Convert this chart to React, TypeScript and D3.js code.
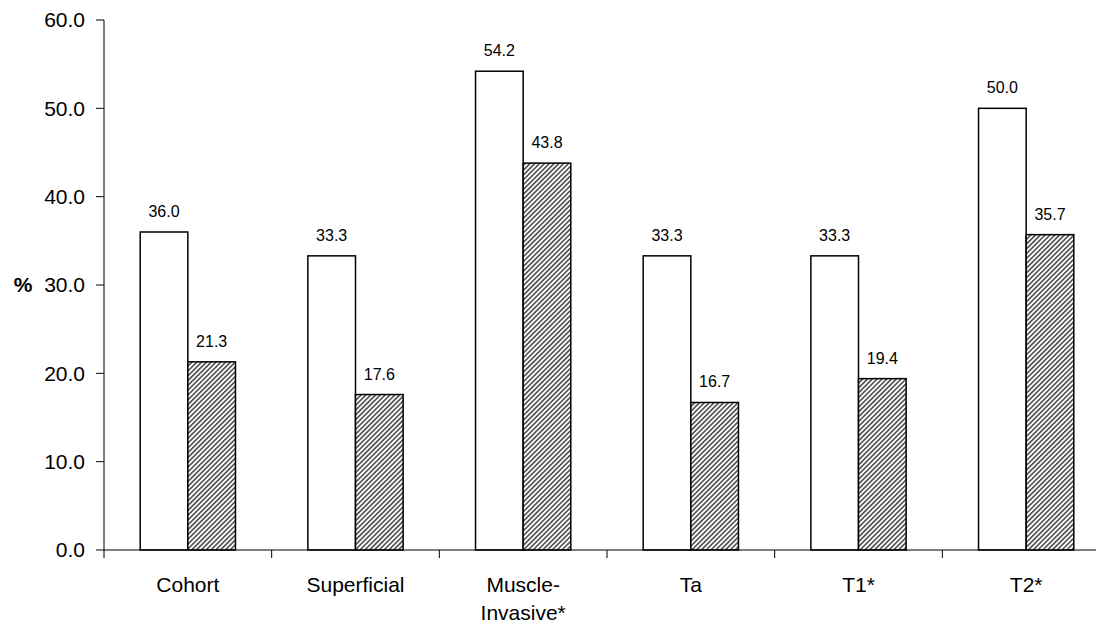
import React from 'react';
import * as d3 from 'd3';

const categories = ['Cohort', 'Superficial', 'Muscle-\nInvasive*', 'Ta', 'T1*', 'T2*'];
const openValues = [36.0, 33.3, 54.2, 33.3, 33.3, 50.0];
const hatchedValues = [21.3, 17.6, 43.8, 16.7, 19.4, 35.7];
const yTicks = [0, 10, 20, 30, 40, 50, 60];

const width = 1096;
const height = 623;
const margin = { top: 20, left: 104, bottom: 73 };
const axisRight = 1110; // the category axis runs past the window edge

const App: React.FC = () => {
  const y = d3.scaleLinear().domain([0, 60]).range([height - margin.bottom, margin.top]);
  const x0 = d3.scaleBand<string>().domain(categories).range([margin.left, axisRight]).padding(0);
  const x1 = d3.scaleBand<string>().domain(['open', 'hatched']).range([0, x0.bandwidth()])
    .paddingInner(0).paddingOuter(0.76);
  const y0 = y(0);
  const font = 'Liberation Sans, Arial, sans-serif';

  const series = [
    { key: 'open', values: openValues, fill: '#fff' },
    { key: 'hatched', values: hatchedValues, fill: 'url(#hatch)' }
  ];

  const boundaries = categories.map(c => x0(c)!).concat([axisRight]);

  return (
    <svg width={width} height={height} style={{ position: 'absolute', left: 0, top: 0, background: '#fff' }}>
      <defs>
        <pattern id="hatch" patternUnits="userSpaceOnUse" width={3.4} height={3.4} patternTransform="rotate(45)">
          <rect width={3.4} height={3.4} fill="#fff" />
          <line x1={0.8} y1={0} x2={0.8} y2={3.4} stroke="#333" strokeWidth={1.4} />
        </pattern>
      </defs>

      {/* bars */}
      {series.map(s => (
        <g key={s.key}>
          {categories.map((c, i) => {
            const bx = x0(c)! + x1(s.key)!;
            const by = y(s.values[i]);
            return (
              <g key={c}>
                <rect x={bx} y={by} width={x1.bandwidth()} height={y0 - by}
                  fill={s.fill} stroke="#000" strokeWidth={1.5} />
                <text x={bx + x1.bandwidth() / 2} y={by - 15} textAnchor="middle"
                  fontFamily={font} fontSize={16} fill="#000">
                  {s.values[i].toFixed(1)}
                </text>
              </g>
            );
          })}
        </g>
      ))}

      {/* y axis */}
      <line x1={margin.left} x2={margin.left} y1={y(60)} y2={y0} stroke="#000" strokeWidth={1} />
      {yTicks.map(t => (
        <g key={t}>
          <line x1={margin.left - 8} x2={margin.left} y1={y(t)} y2={y(t)} stroke="#000" strokeWidth={1} />
          <text x={margin.left - 19} y={y(t)} dy="0.35em" textAnchor="end"
            fontFamily={font} fontSize={21} fill="#000">
            {t.toFixed(1)}
          </text>
        </g>
      ))}
      <text x={23} y={y(30)} dy="0.35em" textAnchor="middle" fontFamily={font}
        fontSize={21} fontWeight="bold" fill="#000">%</text>

      {/* x axis */}
      <line x1={margin.left} x2={axisRight} y1={y0} y2={y0} stroke="#000" strokeWidth={1} />
      {boundaries.map((b, i) => (
        <line key={i} x1={b} x2={b} y1={y0} y2={y0 + 8} stroke="#000" strokeWidth={1} />
      ))}
      {categories.map(c => (
        <text key={c} x={x0(c)! + x0.bandwidth() / 2} y={y0 + 42} textAnchor="middle"
          fontFamily={font} fontSize={21} fill="#000">
          {c.split('\n').map((line, j) => (
            <tspan key={j} x={x0(c)! + x0.bandwidth() / 2} dy={j === 0 ? 0 : 28}>{line}</tspan>
          ))}
        </text>
      ))}
    </svg>
  );
};

export default App;
